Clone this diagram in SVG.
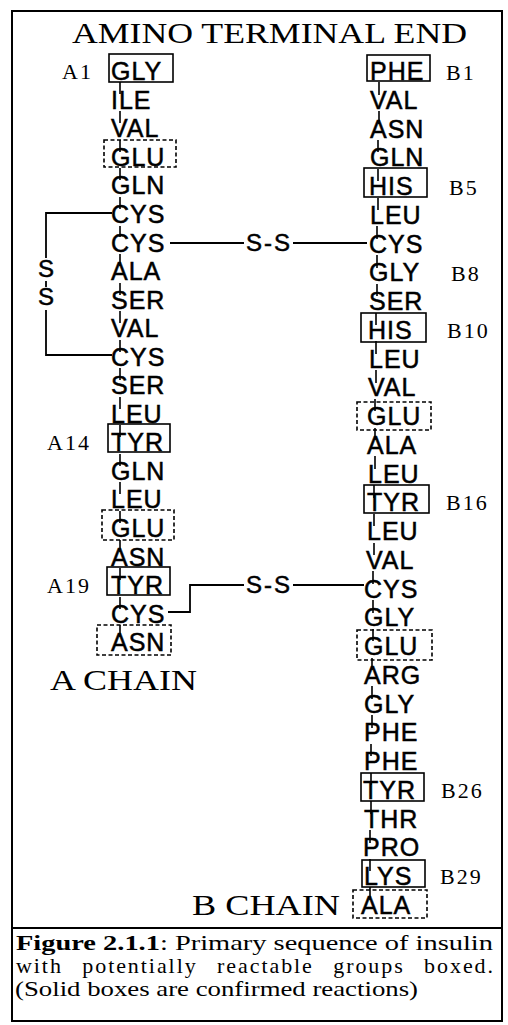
<svg xmlns="http://www.w3.org/2000/svg" width="508" height="1025" viewBox="0 0 508 1025">
<style>
.res{font-family:"Liberation Sans",Arial,sans-serif;font-size:25px;letter-spacing:1px;fill:#000;stroke:#000;stroke-width:0.5}
.lab{font-family:"Liberation Serif","Times New Roman",serif;font-size:22px;letter-spacing:2px;fill:#000}
.big{font-family:"Liberation Serif","Times New Roman",serif;font-size:30px;fill:#000}
.cap{font-family:"Liberation Serif","Times New Roman",serif;font-size:22px;fill:#000}
.ss{font-family:"Liberation Sans",Arial,sans-serif;font-size:24px;letter-spacing:2px;fill:#000;stroke:#000;stroke-width:0.5}
.solid{fill:none;stroke:#000;stroke-width:1.6}
.dash{fill:none;stroke:#000;stroke-width:1.6;stroke-dasharray:4 2.5}
.bb{stroke:#000;stroke-width:1.6;fill:none}
.bond{stroke:#000;stroke-width:1.8;fill:none}
</style>
<rect width="508" height="1025" fill="#fff"/>
<g id="frame">
<rect x="12" y="11" width="490" height="1010" fill="none" stroke="#000" stroke-width="2"/>
<line x1="12" y1="928" x2="502" y2="928" stroke="#000" stroke-width="2"/>
</g>
<text id="title" class="big" x="72" y="43" textLength="395" lengthAdjust="spacingAndGlyphs">AMINO TERMINAL END</text>
<text id="a-chain-label" class="big" x="50" y="690" textLength="147" lengthAdjust="spacingAndGlyphs">A CHAIN</text>
<text id="b-chain-label" class="big" x="192" y="915" textLength="148" lengthAdjust="spacingAndGlyphs">B CHAIN</text>

<g id="connectors">
<path class="bb" d="M120,82V94 M120,111V123 M120,140V152 M120,168V180 M120,197V209 M120,226V237 M120,254V266 M120,283V295 M120,311V323 M120,340V352 M120,368V380 M120,397V409 M120,425V437 M120,454V466 M120,482V494 M120,511V523 M120,540V552 M120,568V580 M120,597V609 M120,625V637"/>
<path class="bb" d="M379,82V95 M379,111V124 M378,140V152 M378,169V181 M378,198V210 M377,226V239 M377,255V268 M377,284V296 M376,313V325 M376,341V354 M376,370V383 M375,399V411 M375,428V440 M375,456V469 M374,485V498 M374,514V526 M374,543V555 M373,571V584 M373,600V613 M373,629V641 M372,658V670 M372,686V699 M372,715V728 M371,744V756 M371,773V785 M371,801V814 M370,830V843 M370,859V871 M370,887V900"/>
<path class="bond" d="M112,213H46V258 M46,281V287 M46,310V355H112"/>
<path class="bond" d="M170,243H244 M293,243H367"/>
<path class="bond" d="M168,612H190V585H244 M293,585H364"/>
</g>

<g id="ss-labels">
<text class="ss" x="46" y="277" text-anchor="middle" style="letter-spacing:0">S</text>
<text class="ss" x="46" y="305" text-anchor="middle" style="letter-spacing:0">S</text>
<text class="ss" x="246" y="251">S-S</text>
<text class="ss" x="246" y="593">S-S</text>
</g>

<g id="a-chain">
<g id="A1"><rect class="solid" x="109" y="54" width="64" height="28"/><text class="res" x="111" y="80">GLY</text><text class="lab" x="62" y="79">A1</text></g>
<g id="A2"><text class="res" x="111" y="108.5">ILE</text></g>
<g id="A3"><text class="res" x="111" y="137">VAL</text></g>
<g id="A4"><rect class="dash" x="104" y="140" width="72" height="27"/><text class="res" x="111" y="165.5">GLU</text></g>
<g id="A5"><text class="res" x="111" y="194">GLN</text></g>
<g id="A6"><text class="res" x="111" y="223">CYS</text></g>
<g id="A7"><text class="res" x="111" y="251.5">CYS</text></g>
<g id="A8"><text class="res" x="111" y="280">ALA</text></g>
<g id="A9"><text class="res" x="111" y="308.5">SER</text></g>
<g id="A10"><text class="res" x="111" y="337">VAL</text></g>
<g id="A11"><text class="res" x="111" y="365.5">CYS</text></g>
<g id="A12"><text class="res" x="111" y="394">SER</text></g>
<g id="A13"><text class="res" x="111" y="422.5">LEU</text></g>
<g id="A14"><rect class="solid" x="108" y="424" width="62" height="28"/><text class="res" x="111" y="451">TYR</text><text class="lab" x="47" y="450">A14</text></g>
<g id="A15"><text class="res" x="111" y="479.5">GLN</text></g>
<g id="A16"><text class="res" x="111" y="508">LEU</text></g>
<g id="A17"><rect class="dash" x="102" y="510" width="72" height="30"/><text class="res" x="111" y="537">GLU</text></g>
<g id="A18"><text class="res" x="111" y="565.5">ASN</text></g>
<g id="A19"><rect class="solid" x="107" y="567" width="63" height="28"/><text class="res" x="111" y="594">TYR</text><text class="lab" x="47" y="593">A19</text></g>
<g id="A20"><text class="res" x="111" y="622.5">CYS</text></g>
<g id="A21"><rect class="dash" x="97" y="625" width="74" height="30"/><text class="res" x="111" y="651">ASN</text></g>
</g>

<g id="b-chain">
<g id="B1"><rect class="solid" x="367" y="55" width="63" height="26"/><text class="res" x="370" y="80">PHE</text><text class="lab" x="446" y="80">B1</text></g>
<g id="B2"><text class="res" x="370" y="108.75">VAL</text></g>
<g id="B3"><text class="res" x="370" y="137.5">ASN</text></g>
<g id="B4"><text class="res" x="370" y="166.25">GLN</text></g>
<g id="B5"><rect class="solid" x="364" y="168" width="63" height="29"/><text class="res" x="369" y="195">HIS</text><text class="lab" x="449" y="195">B5</text></g>
<g id="B6"><text class="res" x="370" y="223.75">LEU</text></g>
<g id="B7"><text class="res" x="369" y="252.5">CYS</text></g>
<g id="B8"><text class="res" x="369" y="281.25">GLY</text><text class="lab" x="451" y="281">B8</text></g>
<g id="B9"><text class="res" x="369" y="310">SER</text></g>
<g id="B10"><rect class="solid" x="361" y="313" width="65" height="29"/><text class="res" x="368" y="338.75">HIS</text><text class="lab" x="447" y="338">B10</text></g>
<g id="B11"><text class="res" x="369" y="367.5">LEU</text></g>
<g id="B12"><text class="res" x="368" y="396.25">VAL</text></g>
<g id="B13"><rect class="dash" x="357" y="402" width="74" height="28"/><text class="res" x="367" y="425">GLU</text></g>
<g id="B14"><text class="res" x="367" y="453.75">ALA</text></g>
<g id="B15"><text class="res" x="368" y="482.5">LEU</text></g>
<g id="B16"><rect class="solid" x="364" y="485" width="65" height="28"/><text class="res" x="367" y="511.25">TYR</text><text class="lab" x="446" y="510">B16</text></g>
<g id="B17"><text class="res" x="367" y="540">LEU</text></g>
<g id="B18"><text class="res" x="366" y="568.75">VAL</text></g>
<g id="B19"><text class="res" x="364" y="597.5">CYS</text></g>
<g id="B20"><text class="res" x="364" y="626.25">GLY</text></g>
<g id="B21"><rect class="dash" x="357" y="630" width="75" height="30"/><text class="res" x="364" y="655">GLU</text></g>
<g id="B22"><text class="res" x="364" y="683.75">ARG</text></g>
<g id="B23"><text class="res" x="364" y="712.5">GLY</text></g>
<g id="B24"><text class="res" x="364" y="741.25">PHE</text></g>
<g id="B25"><text class="res" x="364" y="770">PHE</text></g>
<g id="B26"><rect class="solid" x="361" y="773" width="63" height="28"/><text class="res" x="363" y="798.75">TYR</text><text class="lab" x="441" y="798">B26</text></g>
<g id="B27"><text class="res" x="364" y="827.5">THR</text></g>
<g id="B28"><text class="res" x="363" y="856.25">PRO</text></g>
<g id="B29"><rect class="solid" x="362" y="860" width="63" height="27"/><text class="res" x="364" y="885">LYS</text><text class="lab" x="440" y="884">B29</text></g>
<g id="B30"><rect class="dash" x="353" y="890" width="74" height="28"/><text class="res" x="361" y="914">ALA</text></g>
</g>

<g id="caption">
<text class="cap" x="16" y="950" textLength="477" lengthAdjust="spacingAndGlyphs"><tspan font-weight="bold">Figure 2.1.1</tspan>: Primary sequence of insulin</text>
<text class="cap" x="16" y="973" textLength="477" lengthAdjust="spacing" word-spacing="12">with potentially reactable groups boxed.</text>
<text class="cap" x="15" y="996" textLength="403" lengthAdjust="spacingAndGlyphs">(Solid boxes are confirmed reactions)</text>
</g>
</svg>
